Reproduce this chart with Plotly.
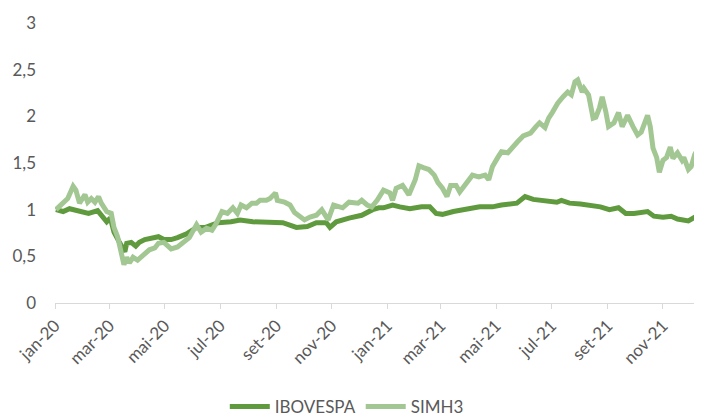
import plotly.graph_objects as go

# IBOVESPA (normalized)
ibov_dates = [
    "2020-01-02", "2020-01-10", "2020-01-17", "2020-01-28", "2020-02-07", "2020-02-17",
    "2020-02-21", "2020-02-27", "2020-03-02", "2020-03-06", "2020-03-12", "2020-03-18",
    "2020-03-20", "2020-03-25", "2020-03-30", "2020-04-03", "2020-04-09", "2020-04-20",
    "2020-04-24", "2020-04-30", "2020-05-08", "2020-05-15", "2020-05-25", "2020-06-05",
    "2020-06-15", "2020-06-23", "2020-06-29", "2020-07-13", "2020-07-23", "2020-08-06",
    "2020-08-25", "2020-09-08", "2020-09-23", "2020-10-05", "2020-10-15", "2020-10-26",
    "2020-10-30", "2020-11-06", "2020-11-20", "2020-12-04", "2020-12-16", "2020-12-23",
    "2020-12-28", "2021-01-07", "2021-01-15", "2021-01-26", "2021-02-08", "2021-02-17",
    "2021-02-24", "2021-03-03", "2021-03-15", "2021-03-30", "2021-04-13", "2021-04-27",
    "2021-05-07", "2021-05-24", "2021-06-02", "2021-06-11", "2021-06-22", "2021-07-07",
    "2021-07-12", "2021-07-21", "2021-08-02", "2021-08-13", "2021-08-24", "2021-09-03",
    "2021-09-13", "2021-09-21", "2021-09-30", "2021-10-15", "2021-10-22", "2021-11-01",
    "2021-11-10", "2021-11-17", "2021-11-29", "2021-12-06", "2021-12-13", "2021-12-15",
]
ibov_values = [
    1.00, 0.98, 1.01, 0.98, 0.96, 0.99,
    0.94, 0.87, 0.91, 0.76, 0.65, 0.55,
    0.64, 0.65, 0.61, 0.65, 0.68, 0.70,
    0.71, 0.68, 0.68, 0.70, 0.74, 0.81,
    0.81, 0.84, 0.86, 0.87, 0.89, 0.87,
    0.87, 0.86, 0.81, 0.82, 0.86, 0.86,
    0.81, 0.87, 0.91, 0.94, 1.00, 1.02,
    1.02, 1.05, 1.03, 1.01, 1.03, 1.03,
    0.96, 0.95, 0.98, 1.00, 1.03, 1.03,
    1.05, 1.07, 1.14, 1.11, 1.10, 1.08,
    1.10, 1.07, 1.06, 1.05, 1.03, 1.00,
    1.02, 0.96, 0.96, 0.98, 0.93, 0.92,
    0.93, 0.90, 0.88, 0.92, 0.93, 0.93,
]

# SIMH3 (normalized)
simh_dates = [
    "2020-01-02", "2020-01-10", "2020-01-15", "2020-01-21", "2020-01-24", "2020-01-28",
    "2020-02-03", "2020-02-06", "2020-02-10", "2020-02-14", "2020-02-18", "2020-02-21",
    "2020-02-27", "2020-03-03", "2020-03-06", "2020-03-10", "2020-03-13", "2020-03-17",
    "2020-03-20", "2020-03-23", "2020-03-27", "2020-04-01", "2020-04-07", "2020-04-14",
    "2020-04-20", "2020-04-24", "2020-04-30", "2020-05-04", "2020-05-08", "2020-05-15",
    "2020-05-21", "2020-05-28", "2020-06-05", "2020-06-10", "2020-06-16", "2020-06-22",
    "2020-06-26", "2020-06-30", "2020-07-03", "2020-07-09", "2020-07-15", "2020-07-20",
    "2020-07-24", "2020-07-30", "2020-08-05", "2020-08-10", "2020-08-14", "2020-08-21",
    "2020-08-25", "2020-08-31", "2020-09-02", "2020-09-10", "2020-09-16", "2020-09-21",
    "2020-09-28", "2020-10-02", "2020-10-08", "2020-10-15", "2020-10-21", "2020-10-28",
    "2020-11-03", "2020-11-09", "2020-11-13", "2020-11-20", "2020-11-30", "2020-12-04",
    "2020-12-10", "2020-12-15", "2020-12-21", "2020-12-28", "2021-01-04", "2021-01-07",
    "2021-01-11", "2021-01-18", "2021-01-25", "2021-02-01", "2021-02-05", "2021-02-10",
    "2021-02-16", "2021-02-22", "2021-02-26", "2021-03-03", "2021-03-08", "2021-03-12",
    "2021-03-18", "2021-03-22", "2021-03-26", "2021-04-01", "2021-04-05", "2021-04-12",
    "2021-04-19", "2021-04-23", "2021-04-27", "2021-05-03", "2021-05-07", "2021-05-14",
    "2021-05-19", "2021-05-25", "2021-05-31", "2021-06-04", "2021-06-08", "2021-06-14",
    "2021-06-18", "2021-06-24", "2021-06-28", "2021-07-02", "2021-07-08", "2021-07-14",
    "2021-07-19", "2021-07-23", "2021-07-27", "2021-07-30", "2021-08-04", "2021-08-06",
    "2021-08-11", "2021-08-16", "2021-08-19", "2021-08-23", "2021-08-26", "2021-08-30",
    "2021-09-02", "2021-09-08", "2021-09-13", "2021-09-17", "2021-09-23", "2021-09-29",
    "2021-10-04", "2021-10-08", "2021-10-13", "2021-10-15", "2021-10-18", "2021-10-21",
    "2021-10-25", "2021-10-28", "2021-11-01", "2021-11-05", "2021-11-09", "2021-11-12",
    "2021-11-17", "2021-11-22", "2021-11-24", "2021-11-29", "2021-12-02", "2021-12-06",
    "2021-12-10", "2021-12-13", "2021-12-15",
]
simh_values = [
    1.00, 1.08, 1.12, 1.25, 1.21, 1.07,
    1.16, 1.08, 1.12, 1.08, 1.14, 1.07,
    0.98, 0.96, 0.81, 0.71, 0.60, 0.41,
    0.49, 0.43, 0.49, 0.46, 0.51, 0.57,
    0.59, 0.64, 0.65, 0.62, 0.58, 0.60,
    0.64, 0.70, 0.84, 0.76, 0.80, 0.78,
    0.84, 0.93, 0.98, 0.96, 1.02, 0.96,
    1.05, 1.02, 1.07, 1.07, 1.10, 1.10,
    1.12, 1.18, 1.10, 1.08, 1.05, 0.97,
    0.91, 0.89, 0.92, 0.94, 1.00, 0.89,
    1.05, 1.03, 1.02, 1.08, 1.07, 1.10,
    1.05, 1.03, 1.10, 1.21, 1.18, 1.10,
    1.23, 1.26, 1.16, 1.32, 1.47, 1.45,
    1.43, 1.37, 1.29, 1.23, 1.14, 1.26,
    1.26, 1.19, 1.24, 1.30, 1.37, 1.35,
    1.37, 1.32, 1.46, 1.56, 1.62, 1.61,
    1.67, 1.73, 1.79, 1.81, 1.82, 1.89,
    1.93, 1.88, 1.98, 2.04, 2.14, 2.21,
    2.26, 2.23, 2.37, 2.39, 2.26, 2.30,
    2.23, 1.98, 1.99, 2.09, 2.21, 2.05,
    1.89, 1.93, 2.04, 1.89, 2.01, 1.89,
    1.80, 1.83, 1.94, 2.01, 1.89, 1.66,
    1.56, 1.40, 1.53, 1.56, 1.67, 1.55,
    1.61, 1.53, 1.56, 1.43, 1.46, 1.59,
    1.66, 1.67, 1.69,
]

tick_dates = [
    "2020-01-01", "2020-03-01", "2020-05-01", "2020-07-01", "2020-09-01", "2020-11-01",
    "2021-01-01", "2021-03-01", "2021-05-01", "2021-07-01", "2021-09-01", "2021-11-01",
]
tick_labels = [
    "jan-20", "mar-20", "mai-20", "jul-20", "set-20", "nov-20",
    "jan-21", "mar-21", "mai-21", "jul-21", "set-21", "nov-21",
]
y_ticks = [0, 0.5, 1, 1.5, 2, 2.5, 3]
y_labels = ["0", "0,5", "1", "1,5", "2", "2,5", "3"]

DARK = "#5F9B3E"
LIGHT = "#A3C793"
TXT = "#595959"
FONT = "Lato"
FS = 17

fig = go.Figure()
fig.add_trace(go.Scatter(x=ibov_dates, y=ibov_values, mode="lines", name="IBOVESPA",
                         line=dict(color=DARK, width=5)))
fig.add_trace(go.Scatter(x=simh_dates, y=simh_values, mode="lines", name="SIMH3",
                         line=dict(color=LIGHT, width=5)))

# page body has an 8px default margin, so the figure is sized 694x410
fig.update_layout(
    width=694, height=410,
    margin=dict(l=47, r=0, t=15, b=115, autoexpand=False),
    paper_bgcolor="white", plot_bgcolor="white",
    font=dict(family=FONT, size=FS, color=TXT),
    showlegend=True,
    legend=dict(orientation="h", x=0.451, xanchor="center", y=-0.371, yanchor="middle",
                font=dict(family=FONT, size=FS, color=TXT), itemwidth=40,
                traceorder="normal"),
)
fig.update_xaxes(
    type="date", range=["2020-01-01", "2021-12-14"], automargin=False,
    tickvals=tick_dates, ticktext=tick_labels, tickangle=-45,
    showgrid=False, showline=True, linecolor="#D9D9D9", linewidth=1,
    ticks="outside", ticklen=5, tickcolor="#D9D9D9",
    tickfont=dict(family=FONT, size=FS, color=TXT),
    zeroline=False,
)
fig.update_yaxes(
    range=[0, 3], tickvals=y_ticks, ticktext=y_labels, automargin=False,
    showgrid=False, showline=False, zeroline=False,
    ticks="", ticklabelstandoff=18,
    tickfont=dict(family=FONT, size=FS, color=TXT),
)

fig.write_html("out.html")
